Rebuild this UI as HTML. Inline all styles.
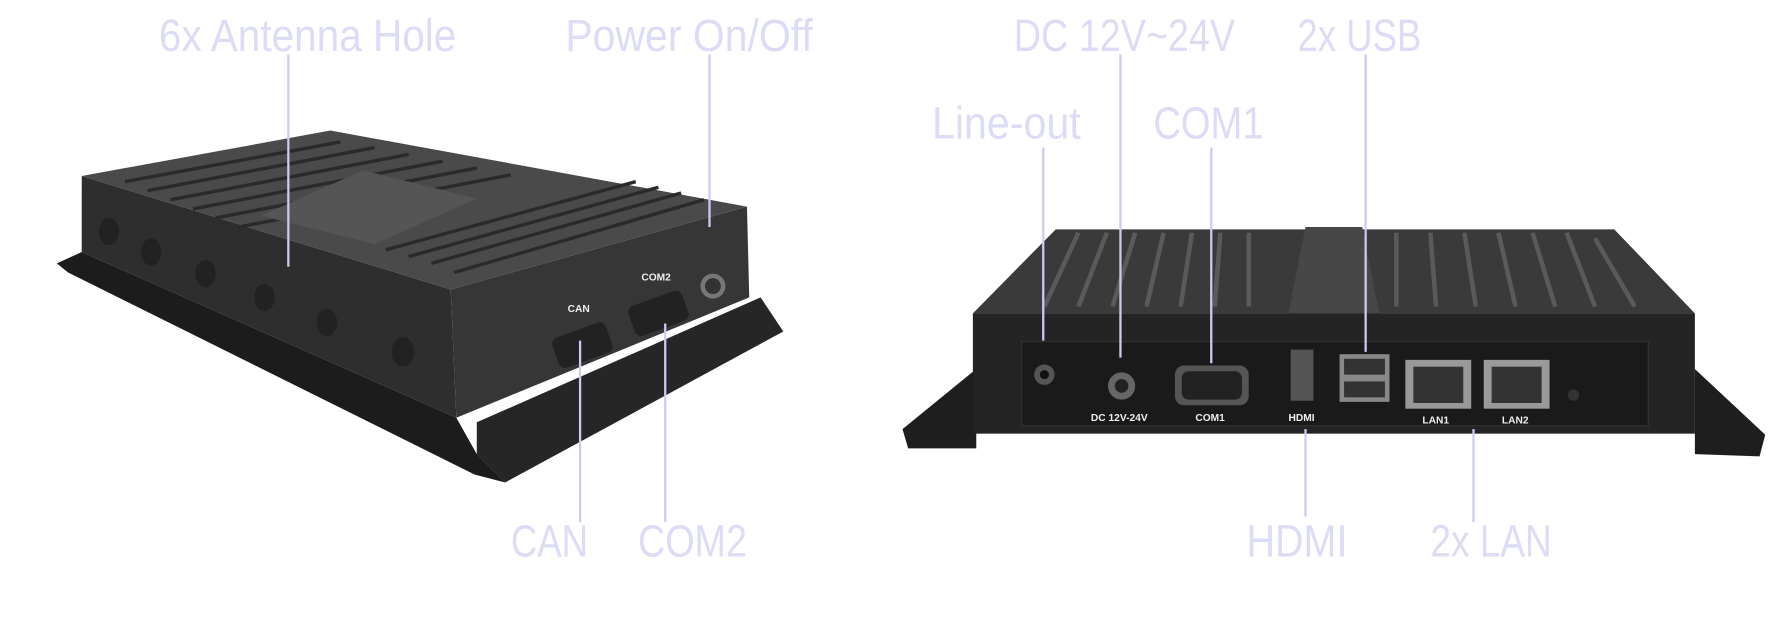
<!DOCTYPE html>
<html><head><meta charset="utf-8"><style>
html,body{margin:0;padding:0;background:#fff;}
svg{display:block;}
.lbl{font-family:"Liberation Sans",sans-serif;fill:#dcdcf6;font-size:40px;}
.sm{font-family:"Liberation Sans",sans-serif;fill:#eee;font-size:9px;font-weight:bold;}
.ln{stroke:#c9cdf3;stroke-width:2;}
</style></head><body>
<svg width="1780" height="627" viewBox="0 0 1568 552.3" xmlns="http://www.w3.org/2000/svg">
<rect width="1568" height="553" fill="#fff"/>
<!-- LEFT DEVICE -->
<polygon points="50,232 72,222 402,368 420,400 445,425 418,418 60,240" fill="#1c1c1c"/>
<polygon points="420,372 670,262 690,292 445,425 420,400" fill="#262626"/>
<polygon points="72,155 397,255 402,368 72,222" fill="#2e2e2e"/>
<polygon points="397,255 658,182 660,262 402,368" fill="#363636"/>
<polygon points="72,155 291,115 658,182 397,255" fill="#4a4a4a"/>
<g stroke="#2a2a2a" stroke-width="3">
<line x1="110" y1="160" x2="300" y2="125"/><line x1="130" y1="168" x2="330" y2="130"/>
<line x1="150" y1="176" x2="360" y2="136"/><line x1="170" y1="184" x2="390" y2="142"/>
<line x1="190" y1="192" x2="420" y2="148"/><line x1="210" y1="200" x2="450" y2="154"/>
<line x1="380" y1="232" x2="600" y2="170"/><line x1="400" y1="240" x2="620" y2="176"/>
<line x1="360" y1="226" x2="580" y2="165"/><line x1="340" y1="220" x2="560" y2="160"/>
</g>
<polygon points="230,190 320,150 420,175 330,215" fill="#555"/>
<g fill="#222">
<ellipse cx="96" cy="204" rx="9" ry="12"/><ellipse cx="133" cy="222" rx="9" ry="12"/>
<ellipse cx="181" cy="241" rx="9" ry="12"/><ellipse cx="233" cy="262" rx="9" ry="12"/>
<ellipse cx="288" cy="284" rx="9" ry="12"/><ellipse cx="355" cy="310" rx="10" ry="13"/>
</g>
<rect x="488" y="290" width="50" height="28" rx="6" fill="#222" transform="rotate(-20 513 304)"/>
<rect x="555" y="262" width="50" height="28" rx="6" fill="#222" transform="rotate(-20 580 276)"/>
<circle cx="628" cy="252" r="11" fill="#777"/><circle cx="628" cy="252" r="7" fill="#333"/>
<text x="500" y="275" class="sm">CAN</text><text x="565" y="247" class="sm">COM2</text>
<!-- RIGHT DEVICE -->
<polygon points="860,325 795,378 800,395 860,395" fill="#1e1e1e"/>
<polygon points="1493,325 1555,383 1550,402 1493,400" fill="#1e1e1e"/>
<polygon points="930,202 1422,202 1493,276 857,276" fill="#3a3a3a"/>
<g stroke="#5a5a5a" stroke-width="4">
<line x1="950" y1="205" x2="920" y2="270"/><line x1="975" y1="205" x2="950" y2="270"/>
<line x1="1000" y1="205" x2="980" y2="270"/><line x1="1025" y1="205" x2="1010" y2="270"/>
<line x1="1050" y1="205" x2="1040" y2="270"/><line x1="1075" y1="205" x2="1070" y2="270"/>
<line x1="1100" y1="205" x2="1100" y2="270"/>
<line x1="1230" y1="205" x2="1230" y2="270"/><line x1="1260" y1="205" x2="1265" y2="270"/>
<line x1="1290" y1="205" x2="1300" y2="270"/><line x1="1320" y1="205" x2="1335" y2="270"/>
<line x1="1350" y1="205" x2="1370" y2="270"/><line x1="1380" y1="205" x2="1405" y2="270"/>
<line x1="1405" y1="210" x2="1440" y2="270"/>
</g>
<polygon points="1150,200 1200,200 1215,276 1135,276" fill="#474747"/>
<rect x="857" y="276" width="636" height="106" fill="#242424"/>
<rect x="900" y="301" width="552" height="74" fill="#1a1a1a" stroke="#333"/>
<circle cx="920" cy="330" r="9" fill="#555"/><circle cx="920" cy="330" r="4" fill="#111"/>
<circle cx="988" cy="340" r="12" fill="#666"/><circle cx="988" cy="340" r="6" fill="#222"/>
<rect x="1035" y="322" width="65" height="35" rx="8" fill="#555"/><rect x="1041" y="327" width="53" height="25" rx="6" fill="#222"/>
<rect x="1137" y="308" width="20" height="45" fill="#555"/>
<rect x="1180" y="312" width="44" height="42" fill="#888"/><rect x="1184" y="316" width="36" height="14" fill="#333"/><rect x="1184" y="336" width="36" height="14" fill="#333"/>
<rect x="1238" y="317" width="58" height="43" fill="#999"/><rect x="1245" y="323" width="44" height="32" fill="#333"/>
<rect x="1307" y="317" width="58" height="43" fill="#999"/><rect x="1314" y="323" width="44" height="32" fill="#333"/>
<circle cx="1386" cy="348" r="5" fill="#333"/>
<text x="961" y="371" class="sm">DC 12V-24V</text><text x="1053" y="371" class="sm">COM1</text>
<text x="1135" y="371" class="sm">HDMI</text><text x="1253" y="373" class="sm">LAN1</text><text x="1323" y="373" class="sm">LAN2</text>
<!-- callout lines -->
<line class="ln" x1="254" y1="48" x2="254" y2="235"/>
<line class="ln" x1="625" y1="48" x2="625" y2="200"/>
<line class="ln" x1="511" y1="300" x2="511" y2="460"/>
<line class="ln" x1="586" y1="285" x2="586" y2="460"/>
<line class="ln" x1="987" y1="48" x2="987" y2="315"/>
<line class="ln" x1="1203" y1="48" x2="1203" y2="310"/>
<line class="ln" x1="919" y1="130" x2="919" y2="300"/>
<line class="ln" x1="1067" y1="130" x2="1067" y2="320"/>
<line class="ln" x1="1150" y1="378" x2="1150" y2="455"/>
<line class="ln" x1="1298" y1="378" x2="1298" y2="460"/>
<!-- labels -->
<text x="140" y="45" class="lbl" textLength="262" lengthAdjust="spacingAndGlyphs">6x Antenna Hole</text>
<text x="498" y="45" class="lbl" textLength="218" lengthAdjust="spacingAndGlyphs">Power On/Off</text>
<text x="893" y="45" class="lbl" textLength="195" lengthAdjust="spacingAndGlyphs">DC 12V~24V</text>
<text x="1143" y="45" class="lbl" textLength="109" lengthAdjust="spacingAndGlyphs">2x USB</text>
<text x="821" y="122" class="lbl" textLength="131" lengthAdjust="spacingAndGlyphs">Line-out</text>
<text x="1016" y="122" class="lbl" textLength="97" lengthAdjust="spacingAndGlyphs">COM1</text>
<text x="450" y="490" class="lbl" textLength="68" lengthAdjust="spacingAndGlyphs">CAN</text>
<text x="562" y="490" class="lbl" textLength="96" lengthAdjust="spacingAndGlyphs">COM2</text>
<text x="1098" y="490" class="lbl" textLength="89" lengthAdjust="spacingAndGlyphs">HDMI</text>
<text x="1260" y="490" class="lbl" textLength="107" lengthAdjust="spacingAndGlyphs">2x LAN</text>
</svg>
</body></html>
